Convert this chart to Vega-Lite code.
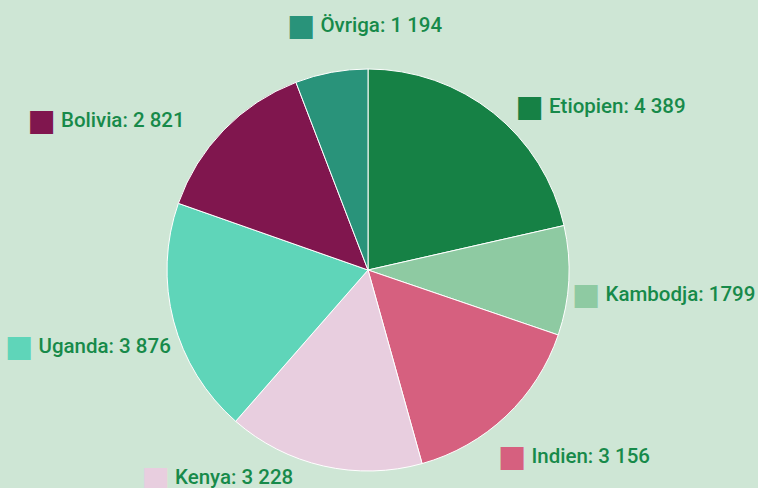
{
  "$schema": "https://vega.github.io/schema/vega-lite/v6.json",
  "width": 736,
  "height": 436,
  "padding": {"left": 0, "top": 52, "right": 22, "bottom": 0},
  "autosize": {"type": "none"},
  "background": "#cee6d5",
  "config": {"view": {"stroke": null}, "text": {"font": "Roboto", "fontSize": 20.5, "fontWeight": 500, "fill": "#178a4a", "align": "left", "baseline": "middle"}},
  "data": {
    "values": [
      {"name": "Etiopien", "value": 4389, "label": "Etiopien: 4 389"},
      {"name": "Kambodja", "value": 1799, "label": "Kambodja: 1799"},
      {"name": "Indien", "value": 3156, "label": "Indien: 3 156"},
      {"name": "Kenya", "value": 3228, "label": "Kenya: 3 228"},
      {"name": "Uganda", "value": 3876, "label": "Uganda: 3 876"},
      {"name": "Bolivia", "value": 2821, "label": "Bolivia: 2 821"},
      {"name": "Övriga", "value": 1194, "label": "Övriga: 1 194"}
    ]
  },
  "transform": [
    {"window": [{"op": "row_number", "as": "rank"}]},
    {"stack": "value", "groupby": [], "sort": [{"field": "rank", "order": "ascending"}], "as": ["v0", "v1"]},
    {"calculate": "(datum.v0 + datum.v1) / 2", "as": "mid"}
  ],
  "encoding": {
    "color": {
      "field": "name",
      "type": "nominal",
      "scale": {
        "domain": ["Etiopien", "Kambodja", "Indien", "Kenya", "Uganda", "Bolivia", "Övriga"],
        "range": ["#168145", "#8ecaa2", "#d6607f", "#e8cedf", "#5fd5b9", "#80164e", "#29937a"]
      },
      "legend": null
    }
  },
  "layer": [
    {
      "mark": {"type": "arc", "radius": 201, "stroke": "#ffffff", "strokeWidth": 1},
      "encoding": {
        "theta": {"field": "value", "type": "quantitative", "stack": true, "scale": {"zero": true, "nice": false}},
        "order": {"field": "rank", "type": "quantitative"}
      }
    },
    {"transform": [{"filter": "datum.name === 'Etiopien'"}], "mark": {"type": "text", "text": "■", "font": "DejaVu Sans", "fontWeight": 400, "fontSize": 30, "align": "center", "radius": 225, "dx": 21.1, "dy": 12.8}, "encoding": {"theta": {"field": "mid", "type": "quantitative", "stack": null}}},
    {"transform": [{"filter": "datum.name === 'Etiopien'"}], "mark": {"type": "text", "radius": 225, "dx": 40.6, "dy": 12.8}, "encoding": {"theta": {"field": "mid", "type": "quantitative", "stack": null}, "text": {"field": "label"}, "color": {"value": "#178a4a"}}},
    {"transform": [{"filter": "datum.name === 'Kambodja'"}], "mark": {"type": "text", "text": "■", "font": "DejaVu Sans", "fontWeight": 400, "fontSize": 30, "align": "center", "radius": 225, "dx": -6.7, "dy": 12.7}, "encoding": {"theta": {"field": "mid", "type": "quantitative", "stack": null}}},
    {"transform": [{"filter": "datum.name === 'Kambodja'"}], "mark": {"type": "text", "radius": 225, "dx": 12.8, "dy": 12.7}, "encoding": {"theta": {"field": "mid", "type": "quantitative", "stack": null}, "text": {"field": "label"}, "color": {"value": "#178a4a"}}},
    {"transform": [{"filter": "datum.name === 'Indien'"}], "mark": {"type": "text", "text": "■", "font": "DejaVu Sans", "fontWeight": 400, "fontSize": 30, "align": "center", "radius": 225, "dx": -10.6, "dy": 23}, "encoding": {"theta": {"field": "mid", "type": "quantitative", "stack": null}}},
    {"transform": [{"filter": "datum.name === 'Indien'"}], "mark": {"type": "text", "radius": 225, "dx": 8.9, "dy": 23}, "encoding": {"theta": {"field": "mid", "type": "quantitative", "stack": null}, "text": {"field": "label"}, "color": {"value": "#178a4a"}}},
    {"transform": [{"filter": "datum.name === 'Kenya'"}], "mark": {"type": "text", "text": "■", "font": "DejaVu Sans", "fontWeight": 400, "fontSize": 30, "align": "center", "radius": 225, "dx": -162.7, "dy": -11.4}, "encoding": {"theta": {"field": "mid", "type": "quantitative", "stack": null}}},
    {"transform": [{"filter": "datum.name === 'Kenya'"}], "mark": {"type": "text", "radius": 225, "dx": -143.2, "dy": -11.4}, "encoding": {"theta": {"field": "mid", "type": "quantitative", "stack": null}, "text": {"field": "label"}, "color": {"value": "#178a4a"}}},
    {"transform": [{"filter": "datum.name === 'Uganda'"}], "mark": {"type": "text", "text": "■", "font": "DejaVu Sans", "fontWeight": 400, "fontSize": 30, "align": "center", "radius": 225, "dx": -131.4, "dy": 19.4}, "encoding": {"theta": {"field": "mid", "type": "quantitative", "stack": null}}},
    {"transform": [{"filter": "datum.name === 'Uganda'"}], "mark": {"type": "text", "radius": 225, "dx": -111.9, "dy": 19.4}, "encoding": {"theta": {"field": "mid", "type": "quantitative", "stack": null}, "text": {"field": "label"}, "color": {"value": "#178a4a"}}},
    {"transform": [{"filter": "datum.name === 'Bolivia'"}], "mark": {"type": "text", "text": "■", "font": "DejaVu Sans", "fontWeight": 400, "fontSize": 30, "align": "center", "radius": 225, "dx": -165.2, "dy": 7.4}, "encoding": {"theta": {"field": "mid", "type": "quantitative", "stack": null}}},
    {"transform": [{"filter": "datum.name === 'Bolivia'"}], "mark": {"type": "text", "radius": 225, "dx": -145.7, "dy": 7.4}, "encoding": {"theta": {"field": "mid", "type": "quantitative", "stack": null}, "text": {"field": "label"}, "color": {"value": "#178a4a"}}},
    {"transform": [{"filter": "datum.name === 'Övriga'"}], "mark": {"type": "text", "text": "■", "font": "DejaVu Sans", "fontWeight": 400, "fontSize": 30, "align": "center", "radius": 225, "dx": -26, "dy": -22.3}, "encoding": {"theta": {"field": "mid", "type": "quantitative", "stack": null}}},
    {"transform": [{"filter": "datum.name === 'Övriga'"}], "mark": {"type": "text", "radius": 225, "dx": -6.5, "dy": -22.3}, "encoding": {"theta": {"field": "mid", "type": "quantitative", "stack": null}, "text": {"field": "label"}, "color": {"value": "#178a4a"}}}
  ]
}
